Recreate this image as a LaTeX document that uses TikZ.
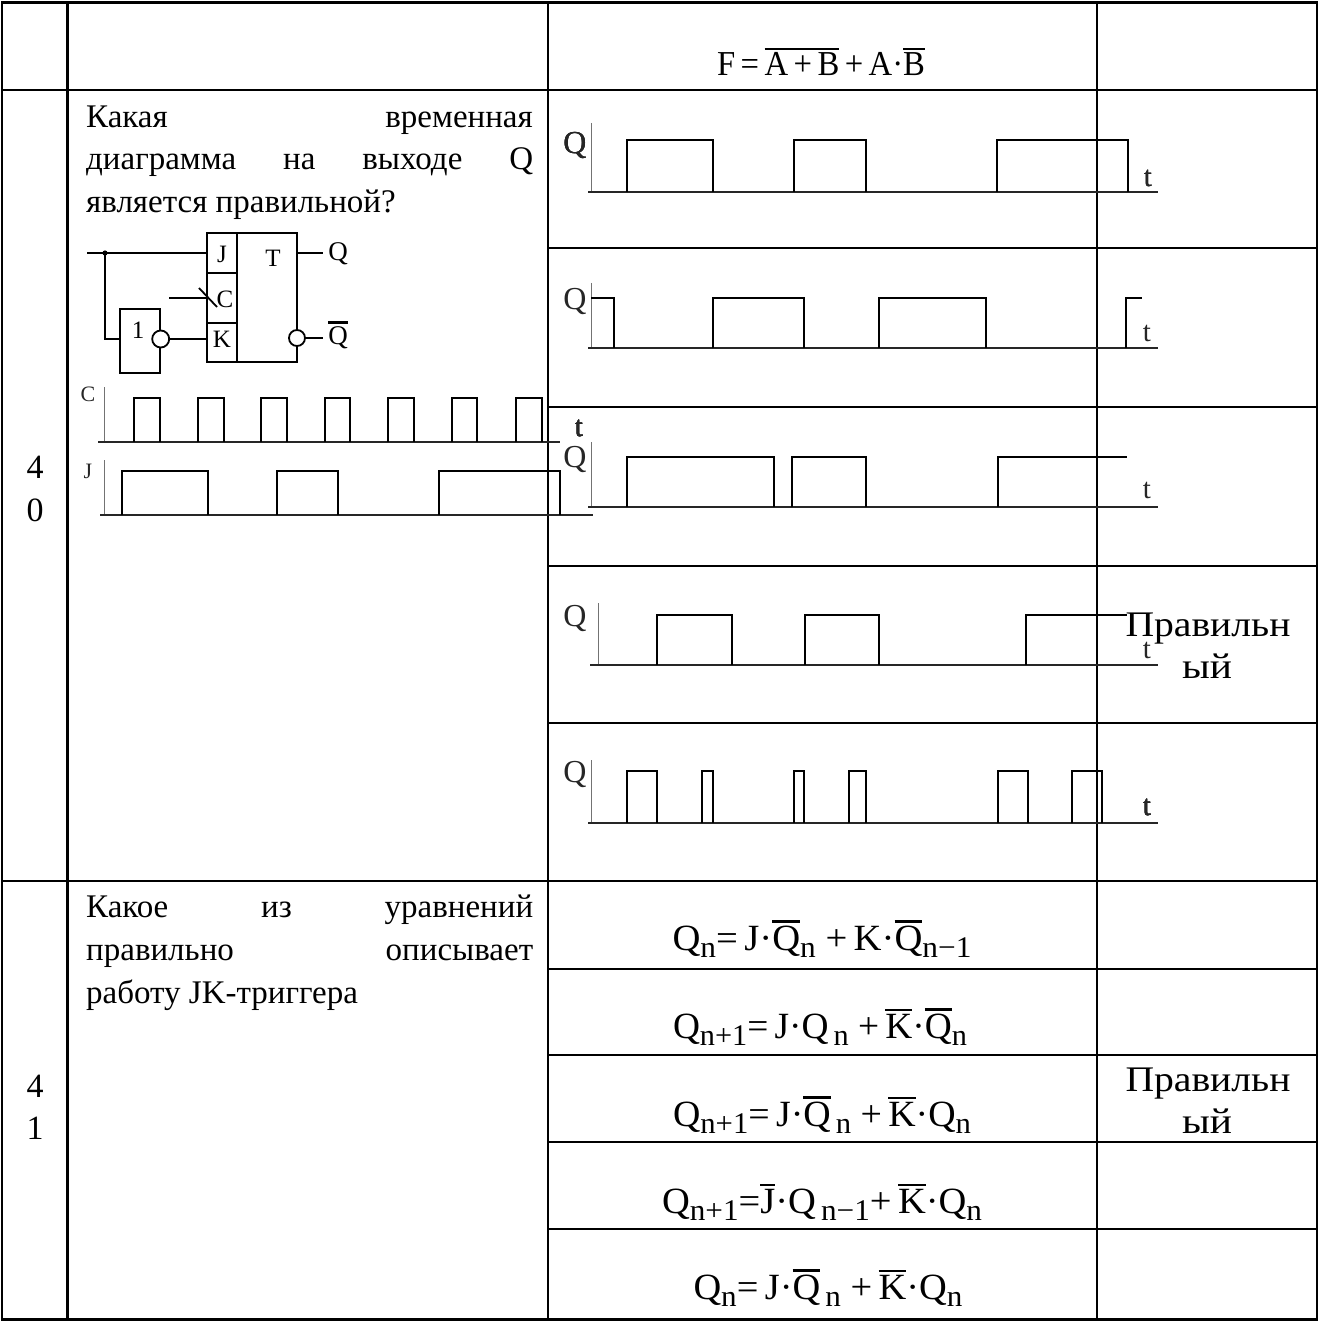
\documentclass[tikz,border=0pt]{standalone}
\usepackage{fontspec}
\setmainfont{Liberation Serif}
\usepackage{graphicx}
\newcommand\ob[1]{\vbox{\hrule height 2.6pt\kern 2.6pt\hbox{#1}}}
\newcommand\sbs[1]{\raisebox{-7pt}{\fontsize{30}{32}\selectfont #1}}
\newcommand\pul[4]{\draw[pulse] (#1,#3)--(#1,#4)--(#2,#4)--(#2,#3);}
\newcommand\wbox[2]{\resizebox{#1pt}{\height}{#2}}
\tikzset{
  tbl/.style={line width=2.2pt},
  pulse/.style={line width=2.6pt, line join=miter},
  baseln/.style={line width=2pt, black!85},
  axisln/.style={line width=1pt, black!55},
  ckt/.style={line width=1.8pt},
  body/.style={font=\fontsize{33}{38}\selectfont, inner sep=0pt},
  num/.style={font=\fontsize{34}{38}\selectfont, inner sep=0pt, anchor=base},
  ans/.style={font=\fontsize{36}{40}\selectfont, inner sep=0pt, anchor=base},
  fml/.style={font=\fontsize{37}{40}\selectfont, inner sep=0pt, anchor=base},
  wl/.style={font=\fontsize{32}{34}\selectfont, inner sep=0pt, text=black!85},
  wt/.style={font=\fontsize{29}{30}\selectfont, inner sep=0pt, text=black!85},
  cl/.style={font=\fontsize{25}{28}\selectfont, inner sep=0pt},
}
\begin{document}
\begin{tikzpicture}[x=1pt,y=-1pt]
\useasboundingbox (0,0) rectangle (1319,1321);
% ---------- table ----------
\draw[tbl] (2,2.5) rectangle (1317,1319.5);
\draw[tbl] (67.5,2.5) -- (67.5,1319.5);
\draw[tbl] (548,2.5) -- (548,1319.5);
\draw[tbl] (1097,2.5) -- (1097,1319.5);
\draw[tbl] (2,90) -- (1317,90);
\draw[tbl] (2,881) -- (1317,881);
\foreach \yy in {248,407,566,723,969,1055,1142,1229}
  \draw[tbl] (548,\yy) -- (1317,\yy);
% ---------- header formula ----------
\node[fml, font=\fontsize{35}{38}\selectfont] (f0) at (821,76)
  {\wbox{208}{F\,=\,\ob{A\,+\,B}\,+\,A·\ob{B}}};
% ---------- row 40 text ----------
\node[num] (n40a) at (35,478) {4};
\node[num] (n40b) at (35,521) {0};
\node[body, anchor=base west] (q40a) at (86,128) {Какая};
\node[body, anchor=base east] (q40b) at (533,128) {временная};
\node[body, anchor=base west] (q40c) at (86,170) {\makebox[447pt][s]{диаграмма на выходе Q}};
\node[body, anchor=base west] (q40d) at (86,213) {является правильной?};
% ---------- circuit ----------
\draw[ckt] (87,253) -- (207,253);
\fill (105,253) circle (2.6);
\draw[ckt] (105,253) -- (105,339) -- (120,339);
\draw[ckt] (120,309) rectangle (160,373);
\node[cl] (inv1) at (138,330) {1};
\draw[ckt] (169.5,339) -- (207,339);
\draw[ckt, fill=white] (160.7,339) circle (8.5);
\draw[ckt] (207,233) rectangle (297,362);
\draw[ckt] (237,233) -- (237,362);
\draw[ckt] (207,273) -- (237,273);
\draw[ckt] (207,323) -- (237,323);
\node[cl] (lj) at (222,254) {J};
\node[cl] (lc) at (225,299) {C};
\node[cl] (lk) at (222,339) {K};
\node[cl] (lt) at (273,258) {T};
\draw[ckt] (169,298) -- (207,298);
\draw[ckt] (199,288) -- (217,307);
\draw[ckt] (297,253) -- (323,253);
\node[cl, font=\fontsize{27}{30}\selectfont] (lq) at (338,254) {Q};
\draw[ckt] (305,338) -- (323,338);
\draw[ckt, fill=white] (297,338) circle (8);
\node[cl, font=\fontsize{27}{30}\selectfont] (lqb) at (338,335) {\ob{Q}};
% ---------- C and J waveforms ----------
\node[cl, font=\fontsize{22}{24}\selectfont, text=black!85] (wc) at (88,394) {C};
\draw[axisln] (104,387) -- (104,442);
\draw[baseln] (98,442) -- (560,442);
\foreach \a/\b in {134/160,198/224,261/287,325/350,388/414,452/477,516/542}
  \pul{\a}{\b}{442}{398}
\node[wt] (wct) at (579,428) {t};
\node[cl, font=\fontsize{22}{24}\selectfont, text=black!85] (wj) at (88,471) {J};
\draw[axisln] (104,460) -- (104,515);
\draw[baseln] (100,515) -- (593,515);
\foreach \a/\b in {122/208,277/338,439/560}
  \pul{\a}{\b}{515}{471}
% ---------- answer waveforms ----------
% W1
\node[wl] (q1) at (575,146) {Q};
\draw[axisln] (591,123) -- (591,192);
\draw[baseln] (588,192) -- (1158,192);
\foreach \a/\b in {627/713,794/866,997/1128}
  \pul{\a}{\b}{192}{140}
\node[wt] (t1) at (1148,178) {t};
% W2
\node[wl] (q2) at (575,301) {Q};
\draw[axisln] (591,283) -- (591,348);
\draw[baseln] (588,348) -- (1158,348);
\draw[pulse] (591,298) -- (614,298) -- (614,348);
\foreach \a/\b in {713/804,879/986}
  \pul{\a}{\b}{348}{298}
\draw[pulse] (1126,348) -- (1126,298) -- (1142,298);
\node[wt] (t2) at (1147,333) {t};
% W3
\node[wl] (q3) at (575,459) {Q};
\draw[axisln] (591,442) -- (591,507);
\draw[baseln] (588,507) -- (1158,507);
\foreach \a/\b in {627/774,792/866}
  \pul{\a}{\b}{507}{457}
\draw[pulse] (998,507) -- (998,457) -- (1127,457);
\node[wt] (t3) at (1147,490) {t};
% W4
\node[wl] (q4) at (575,618) {Q};
\draw[axisln] (598,603) -- (598,665);
\draw[baseln] (590,665) -- (1158,665);
\foreach \a/\b in {657/732,805/879}
  \pul{\a}{\b}{665}{615}
\draw[pulse] (1026,665) -- (1026,615) -- (1127,615);
\node[wt] (t4) at (1147,650) {t};
% W5
\node[wl] (q5) at (575,774) {Q};
\draw[axisln] (591,760) -- (591,823);
\draw[baseln] (588,823) -- (1158,823);
\foreach \a/\b in {627/657,702/713,794/804,849/866,998/1028,1072/1102}
  \pul{\a}{\b}{823}{771}
\node[wt] (t5) at (1147,807) {t};
% answer mark row 40
\node[ans] (a40a) at (1208,636) {\wbox{165}{Правильн}};
\node[ans] (a40b) at (1207,678) {\wbox{50}{ый}};
% ---------- row 41 ----------
\node[num] (n41a) at (35,1097) {4};
\node[num] (n41b) at (35,1139) {1};
\node[body, anchor=base west] (q41a) at (86,917) {\makebox[447pt][s]{Какое из уравнений}};
\node[body, anchor=base west] (q41b) at (86,960) {\makebox[447pt][s]{правильно описывает}};
\node[body, anchor=base west] (q41c) at (86,1003) {работу JK-триггера};
\node[fml] (f1) at (822,950)
  {\wbox{299}{Q\sbs{n}=\,J·\ob{Q}\sbs{n}\ +\,K·\ob{Q}\sbs{n−1}}};
\node[fml] (f2) at (820,1038)
  {\wbox{294}{Q\sbs{n+1}=\,J·Q\sbs{\,n}\ +\,\ob{K}·\ob{Q}\sbs{n}}};
\node[fml] (f3) at (822,1126)
  {\wbox{298}{Q\sbs{n+1}=\,J·\ob{Q}\sbs{\,n}\ +\,\ob{K}·Q\sbs{n}}};
\node[fml] (f4) at (822,1213)
  {\wbox{320}{Q\sbs{n+1}=\ob{J}·Q\sbs{\,n−1}+\,\ob{K}·Q\sbs{n}}};
\node[fml] (f5) at (828,1299)
  {\wbox{269}{Q\sbs{n}=\,J·\ob{Q}\sbs{\,n}\ +\,\ob{K}·Q\sbs{n}}};
\node[ans] (a41a) at (1208,1091) {\wbox{165}{Правильн}};
\node[ans] (a41b) at (1207,1133) {\wbox{50}{ый}};
\end{tikzpicture}
\end{document}
